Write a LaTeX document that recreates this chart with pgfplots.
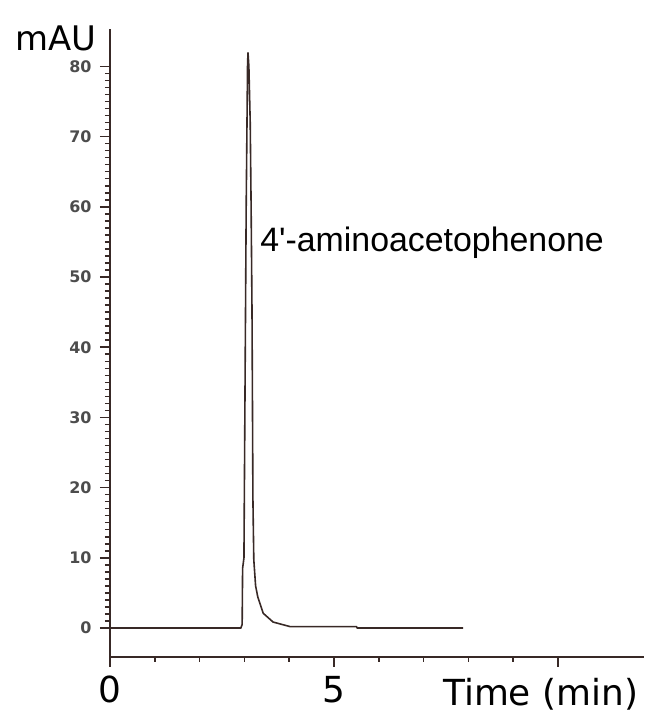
\documentclass[border=0pt]{standalone}
\usepackage{fontspec}
\setmainfont{DejaVu Sans}
\newfontfamily\arialfont{Liberation Sans}
\usepackage{pgfplots}
\pgfplotsset{compat=1.18}
\definecolor{trace}{rgb}{0.22,0.16,0.15}
\definecolor{ticklab}{rgb}{0.30,0.30,0.30}

\pgfplotstableread{
t      mau
0.00   0.0
2.92   0.0
2.95   0.5
2.96   8.5
2.99   10.0
3.01   30.0
3.04   60.0
3.07   80.0
3.08   82.0
3.10   80.0
3.13   72.0
3.15   60.0
3.17   45.0
3.18   32.0
3.19   18.5
3.20   14.0
3.21   9.7
3.25   6.0
3.30   4.4
3.42   2.1
3.64   0.85
4.02   0.2
5.50   0.2
5.52   0.0
7.88   0.0
}\chrom

\begin{document}
\begin{tikzpicture}
\begin{axis}[
    at={(0,0)}, anchor=south west,
    x=44.8bp, y=7.02bp,
    xmin=0, xmax=11.92,
    ymin=-4.1, ymax=85.3,
    axis x line=bottom, axis y line=left,
    axis line style={-, draw=trace, line width=1.5bp},
    tick align=outside,
    major tick length=10bp, minor tick length=5bp,
    every tick/.style={draw=trace, line width=1.5bp},
    /pgf/number format/assume math mode=true,
    xtick={0,5,10}, xticklabels={0,5,},
    minor x tick num=4,
    ytick={0,10,...,80},
    minor y tick num=9,
    xticklabel style={font=\fontsize{36}{40}\selectfont, text=black, yshift=-6bp},
    yticklabel style={font=\fontsize{16}{18}\selectfont\bfseries, text=ticklab, xshift=-5bp},
    xlabel={Time (min)},
    xlabel style={at={(axis cs:11.79,-10.97)}, anchor=base east, inner sep=0pt,
        font=\fontsize{36}{40}\selectfont},
    ylabel={mAU},
    ylabel style={at={(axis cs:-1.2,84)}, anchor=center, rotate=-90, inner sep=0pt,
        font=\fontsize{34}{38}\selectfont},
    clip=false,
]
\addplot[trace, line width=1.6bp] table[x=t, y=mau] {\chrom};
\node[anchor=base west, inner sep=0pt, font=\arialfont\fontsize{34}{38}\selectfont]
    at (axis cs:3.35,53.6) {4'-aminoacetophenone};
\end{axis}
\useasboundingbox (-110bp,-56.2bp) rectangle (534bp,656.8bp);
\end{tikzpicture}
\end{document}
